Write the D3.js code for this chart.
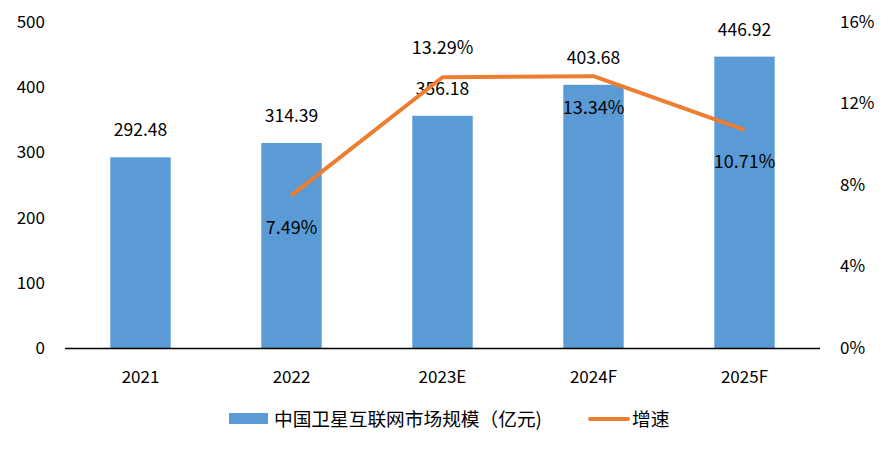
<!DOCTYPE html>
<html><head><meta charset="utf-8">
<script src="https://cdn.jsdelivr.net/npm/d3@7"></script>
<style>body{margin:0;background:#fff}text{font-family:"Noto Sans CJK SC","Noto Sans",sans-serif;fill:#000}</style>
</head><body><svg id="c" width="892" height="450"></svg>
<script>
const categories = ["2021","2022","2023E","2024F","2025F"];
const marketSize = [292.48,314.39,356.18,403.68,446.92];
const growth = [null,7.49,13.29,13.34,10.71];
const leftTicks = [0,100,200,300,400,500];
const rightTicks = [0,4,8,12,16];
const seriesNames = ["中国卫星互联网市场规模（亿元)","增速"];
const growthLabelPos = [null,"below","above","below","below"];

const svg = d3.select("#c");
const L = 65, R = 820, T = 22, B = 348;
const x = d3.scaleBand().domain(categories).range([L,R]).paddingInner(0.6).paddingOuter(0.3);
const yL = d3.scaleLinear().domain([0,500]).range([B,T]);
const yR = d3.scaleLinear().domain([0,16]).range([B,T]);
const fs = 17;

svg.selectAll("rect.bar").data(marketSize).join("rect").attr("class","bar")
  .attr("x",(d,i)=>x(categories[i])).attr("width",x.bandwidth())
  .attr("y",d=>yL(d)).attr("height",d=>B-yL(d)).attr("fill","#5b9bd5");

svg.append("line").attr("x1",L).attr("x2",R).attr("y1",B+0.5).attr("y2",B+0.5).attr("stroke","#000").attr("stroke-width",1.5);

svg.selectAll("text.lt").data(leftTicks).join("text").attr("class","lt")
  .attr("x",45).attr("y",d=>yL(d)).attr("dy","0.35em").attr("text-anchor","end").attr("font-size",fs).text(d=>d);
svg.selectAll("text.rt").data(rightTicks).join("text").attr("class","rt")
  .attr("x",840).attr("y",d=>yR(d)).attr("dy","0.35em").attr("text-anchor","start").attr("font-size",fs).text(d=>d+"%");
svg.selectAll("text.xt").data(categories).join("text").attr("class","xt")
  .attr("x",d=>x(d)+x.bandwidth()/2).attr("y",377).attr("dy","0.35em").attr("text-anchor","middle").attr("font-size",fs).text(d=>d);

svg.selectAll("text.bl").data(marketSize).join("text").attr("class","bl")
  .attr("x",(d,i)=>x(categories[i])+x.bandwidth()/2).attr("y",d=>yL(d)-27).attr("dy","0.35em")
  .attr("text-anchor","middle").attr("font-size",17.5).text(d=>d.toFixed(2));

const pts = categories.map((c,i)=>({c,v:growth[i],p:growthLabelPos[i]})).filter(d=>d.v!=null);
const line = d3.line().x(d=>x(d.c)+x.bandwidth()/2).y(d=>yR(d.v));
svg.append("path").datum(pts).attr("d",line).attr("fill","none").attr("stroke","#ed7d31").attr("stroke-width",4).attr("stroke-linejoin","round");
svg.selectAll("text.gl").data(pts).join("text").attr("class","gl")
  .attr("x",d=>x(d.c)+x.bandwidth()/2).attr("y",d=>yR(d.v)+(d.p==="above"?-30:32)).attr("dy","0.35em")
  .attr("text-anchor","middle").attr("font-size",18).text(d=>d.v.toFixed(2)+"%");

// legend
svg.append("rect").attr("x",229).attr("y",413).attr("width",39).attr("height",11).attr("fill","#5b9bd5");
svg.append("text").attr("x",274).attr("y",419).attr("dy","0.35em").attr("font-size",18.7).text(seriesNames[0]);
svg.append("line").attr("x1",590).attr("x2",628).attr("y1",419).attr("y2",419).attr("stroke","#ed7d31").attr("stroke-width",4).attr("stroke-linecap","round");
svg.append("text").attr("x",632).attr("y",419).attr("dy","0.35em").attr("font-size",18.7).text(seriesNames[1]);
</script></body></html>
